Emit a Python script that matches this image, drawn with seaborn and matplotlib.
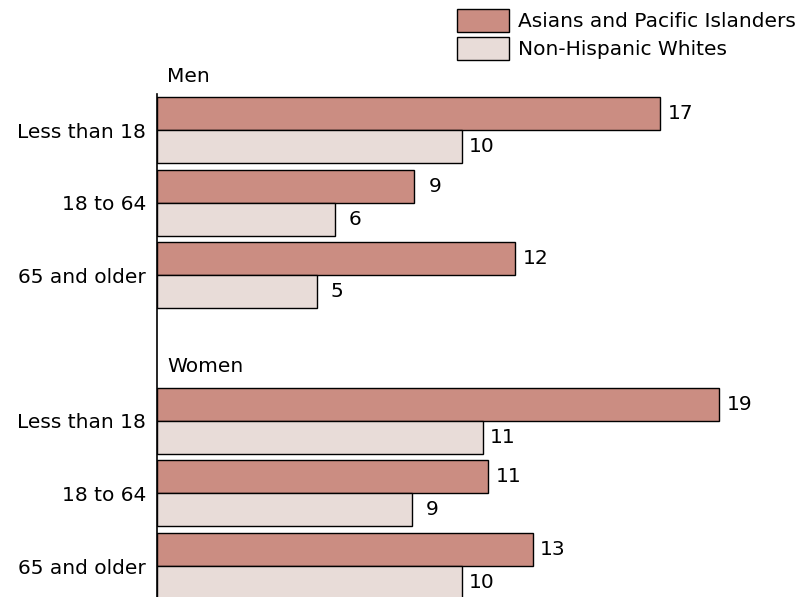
import numpy as np
import pandas as pd
import matplotlib.pyplot as plt
import seaborn as sns

sns.set_theme(style="white")
plt.rcParams['font.family'] = ['DejaVu Sans']
plt.rcParams['text.color'] = 'black'
plt.rcParams['ytick.color'] = 'black'

# data (percent)
ages = ["Less than 18", "18 to 64", "65 and older"]
series = ["Asians and Pacific Islanders", "Non-Hispanic Whites"]
men_api = [17.0, 8.7, 12.1]
men_nhw = [10.3, 6.0, 5.4]
women_api = [19.0, 11.2, 12.7]
women_nhw = [11.0, 8.6, 10.3]

colors = {"Asians and Pacific Islanders": "#CB8D82",
          "Non-Hispanic Whites": "#E8DCD8"}
FS = 14.5

rows = []
for sex, api, nhw in [("Men", men_api, men_nhw), ("Women", women_api, women_nhw)]:
    for age, a, w in zip(ages, api, nhw):
        rows.append({"row": f"{sex}|{age}", "series": series[0], "value": a})
        rows.append({"row": f"{sex}|{age}", "series": series[1], "value": w})
df = pd.DataFrame(rows)

order = [f"Men|{a}" for a in ages] + ["gap"] + [f"Women|{a}" for a in ages]

fig = plt.figure(figsize=(8.04, 5.97), dpi=100)
ax = fig.add_axes([157 / 804, 0, 647 / 804, 1])

sns.barplot(data=df, y="row", x="value", hue="series", order=order,
            hue_order=series, palette=colors, saturation=1, orient="h",
            width=0.91, edgecolor="black", linewidth=1, errorbar=None, ax=ax)

# value labels centred a little past the bar end
for cont in ax.containers:
    anns = ax.bar_label(cont, labels=[f"{v:.0f}" for v in cont.datavalues],
                        padding=14.5, fontsize=FS)
    for t in anns:
        t.set_ha("center")

ax.set_xlim(0, 21.86)
ax.set_ylim(6.426, -1.789)
ax.set_yticks(range(len(order)))
ax.set_yticklabels(ages + [""] + ages, fontsize=FS)
ax.tick_params(axis="y", length=0, pad=8)
ax.set_xticks([])
ax.set_xlabel("")
ax.set_ylabel("")

for s in ["top", "right", "bottom"]:
    ax.spines[s].set_visible(False)
ax.spines["left"].set_color("black")
ax.spines["left"].set_linewidth(1.2)
ax.spines["left"].set_bounds(6.426, -0.495)

# section headings
ax.text(0.34, -0.74, "Men", fontsize=FS, va="center", ha="left")
ax.text(0.34, 3.25, "Women", fontsize=FS, va="center", ha="left")

handles, labels = ax.get_legend_handles_labels()
ax.legend(handles, labels, loc="upper left", bbox_to_anchor=(457 / 804, 1 - 9 / 597),
          bbox_transform=fig.transFigure, frameon=False, fontsize=FS,
          handlelength=2.58, handleheight=1.38, handletextpad=0.45,
          labelspacing=0.23, borderpad=0, borderaxespad=0)

fig.savefig("out.png", dpi=100)
